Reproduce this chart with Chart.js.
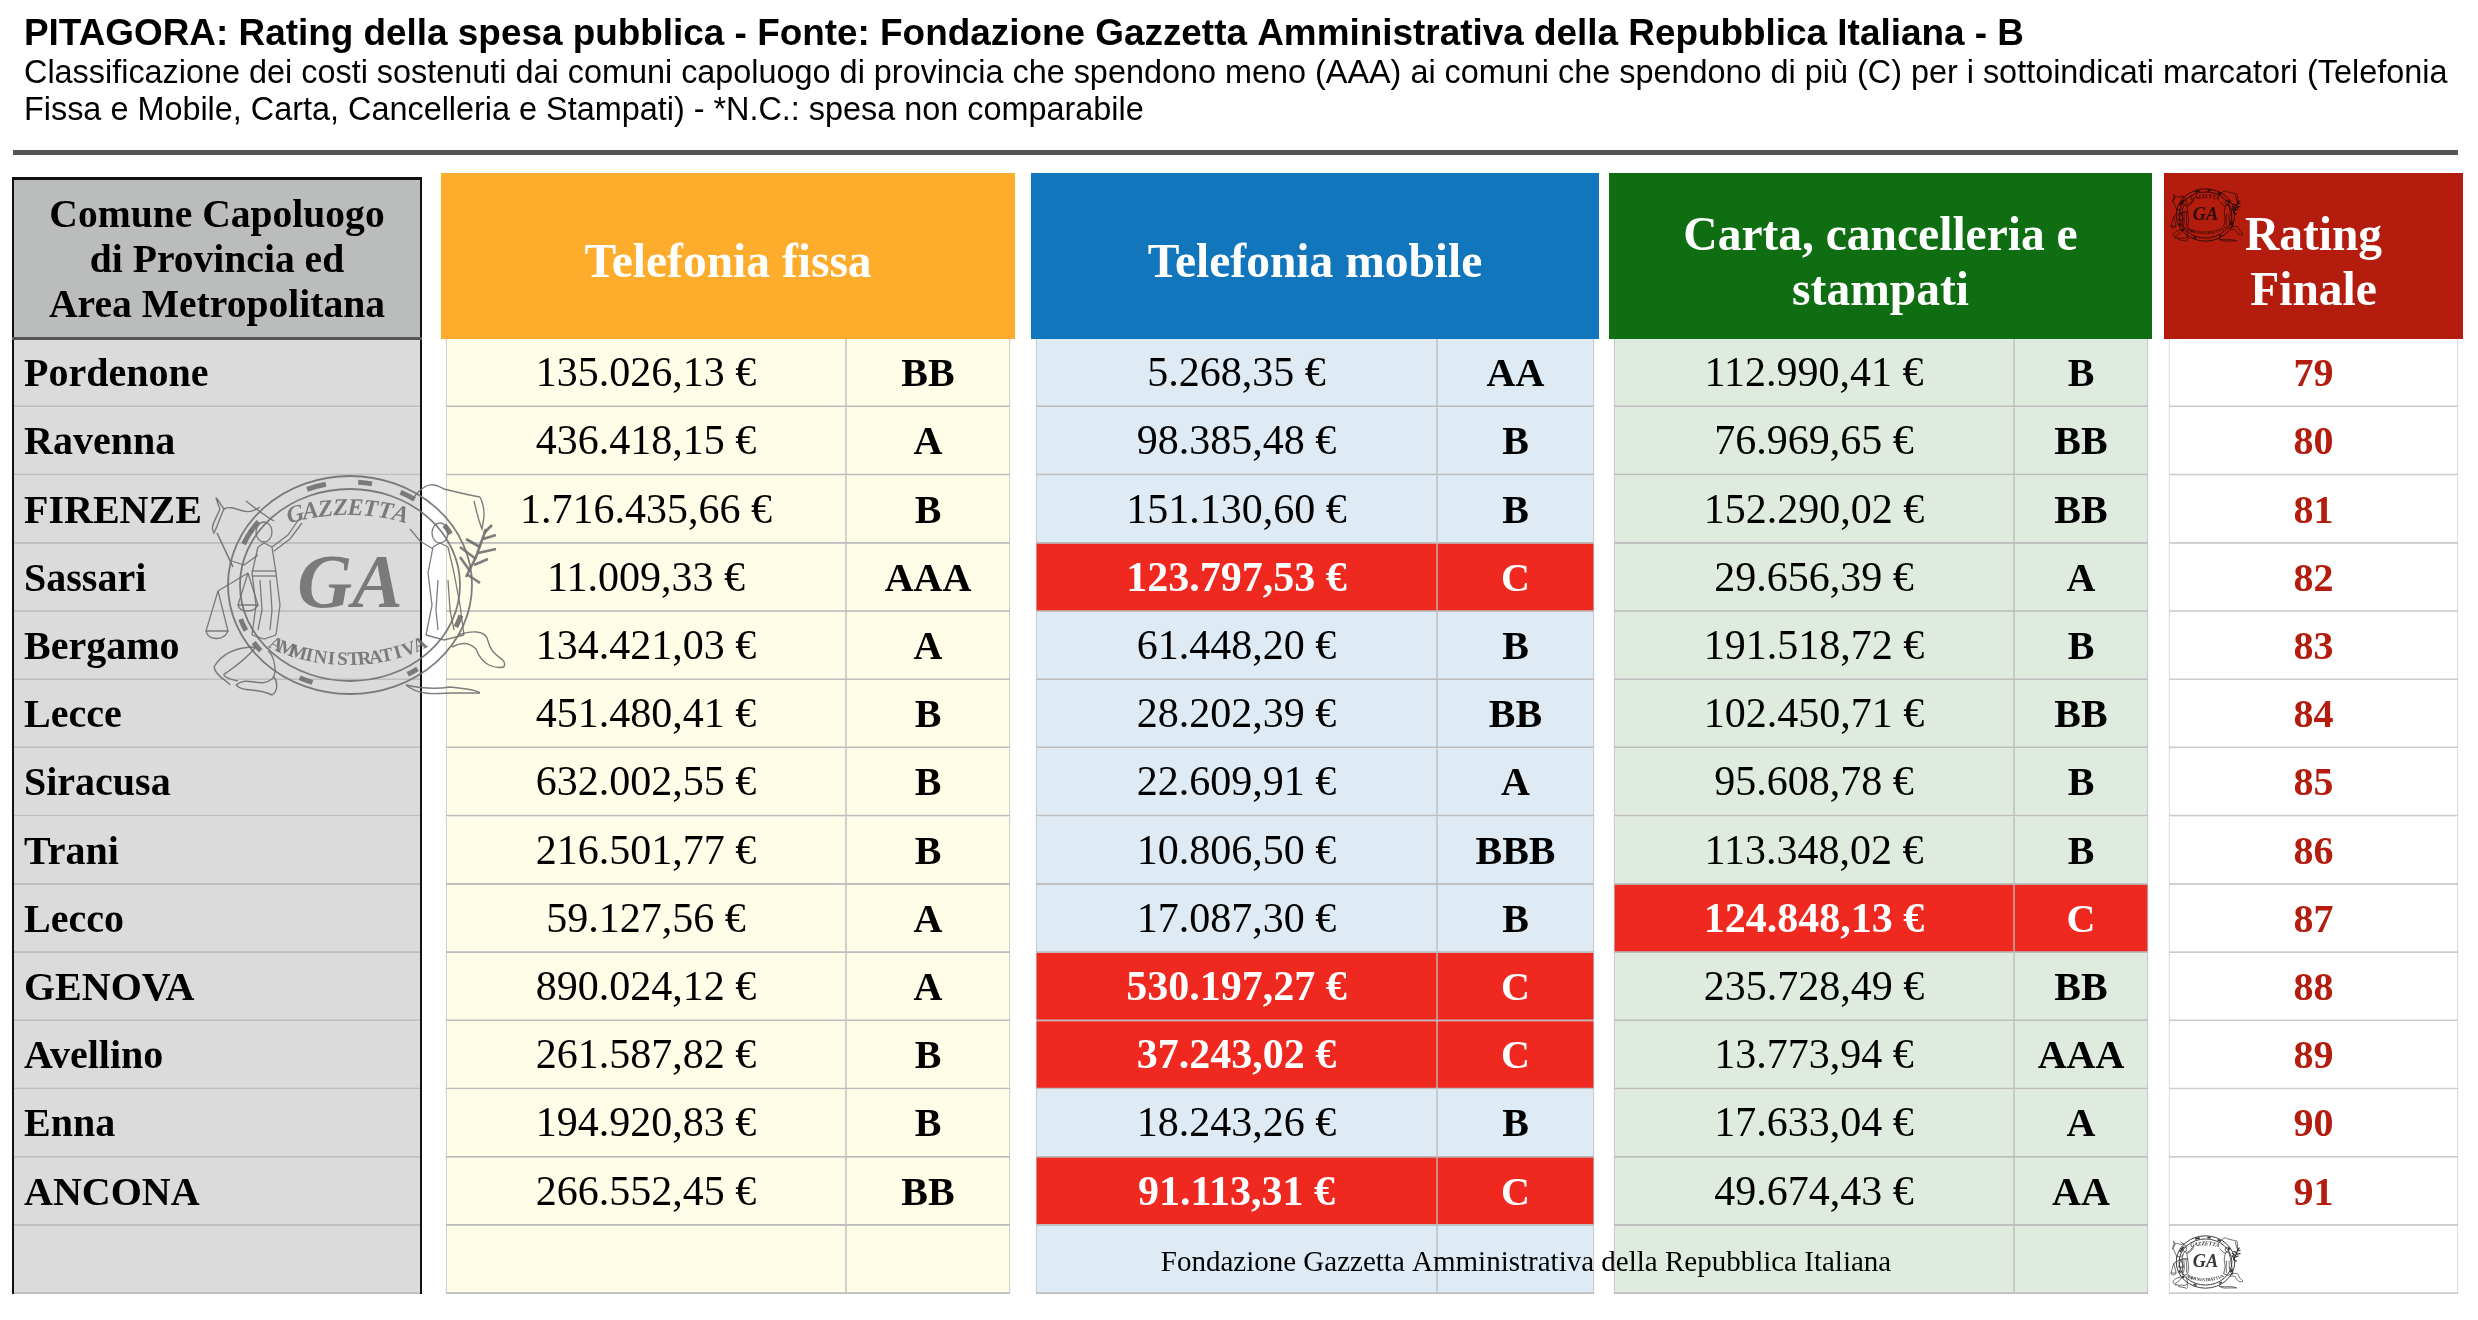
<!DOCTYPE html>
<html>
<head>
<meta charset="utf-8">
<title>PITAGORA</title>
<script src="https://cdn.jsdelivr.net/npm/chart.js@4"></script>
<style>
  html, body { margin: 0; background: #fff; }
  canvas { display: block; }
</style>
</head>
<body>
<canvas id="ratingChart" width="2478" height="1320"></canvas>
<script>
// last row is the empty one with the foundation credit
const comuni = ['Pordenone', 'Ravenna', 'FIRENZE', 'Sassari', 'Bergamo', 'Lecce', 'Siracusa', 'Trani', 'Lecco', 'GENOVA', 'Avellino', 'Enna', 'ANCONA', ''];
const spesaFissa = ['135.026,13 €', '436.418,15 €', '1.716.435,66 €', '11.009,33 €', '134.421,03 €', '451.480,41 €', '632.002,55 €', '216.501,77 €', '59.127,56 €', '890.024,12 €', '261.587,82 €', '194.920,83 €', '266.552,45 €', ''];
const ratingFissa = ['BB', 'A', 'B', 'AAA', 'A', 'B', 'B', 'B', 'A', 'A', 'B', 'B', 'BB', ''];
const spesaMobile = ['5.268,35 €', '98.385,48 €', '151.130,60 €', '123.797,53 €', '61.448,20 €', '28.202,39 €', '22.609,91 €', '10.806,50 €', '17.087,30 €', '530.197,27 €', '37.243,02 €', '18.243,26 €', '91.113,31 €', ''];
const ratingMobile = ['AA', 'B', 'B', 'C', 'B', 'BB', 'A', 'BBB', 'B', 'C', 'C', 'B', 'C', ''];
const spesaCarta = ['112.990,41 €', '76.969,65 €', '152.290,02 €', '29.656,39 €', '191.518,72 €', '102.450,71 €', '95.608,78 €', '113.348,02 €', '124.848,13 €', '235.728,49 €', '13.773,94 €', '17.633,04 €', '49.674,43 €', ''];
const ratingCarta = ['B', 'BB', 'BB', 'A', 'B', 'BB', 'B', 'B', 'C', 'BB', 'AAA', 'A', 'AA', ''];
const ratingFinale = [79, 80, 81, 82, 83, 84, 85, 86, 87, 88, 89, 90, 91, ''];

const titleText = 'PITAGORA: Rating della spesa pubblica - Fonte: Fondazione Gazzetta Amministrativa della Repubblica Italiana - B';
const subtitleLines = [
    'Classificazione dei costi sostenuti dai comuni capoluogo di provincia che spendono meno (AAA) ai comuni che spendono di più (C) per i sottoindicati marcatori (Telefonia',
    'Fissa e Mobile, Carta, Cancelleria e Stampati) - *N.C.: spesa non comparabile'
];
const creditText = 'Fondazione Gazzetta Amministrativa della Repubblica Italiana';

const SERIF = '"Liberation Serif", serif';
const SANS = '"Liberation Sans", sans-serif';
const RED_CELL = '#ef2820';
const DARK_RED = '#b41c0e';

// one floating bar per table column, x scale runs in page pixels
function column(from, to, values, fill, opts) {
    return Object.assign({
        label: from + '',
        data: comuni.map(() => [from, to]),
        texts: values,
        size: 40,
        backgroundColor: fill,
        borderColor: '#bdbdbd',
        borderWidth: { top: 0, right: 1, bottom: 2, left: 1 },
        borderSkipped: false,
        barPercentage: 1,
        categoryPercentage: 1,
        grouped: false
    }, opts);
}

function redIfC(ratings, normal) {
    return ratings.map(r => r === 'C' ? RED_CELL : normal);
}

const datasets = [
    column(13, 421, comuni, '#dbdbdb', { align: 'left', bold: true }),
    column(446, 846, spesaFissa, '#fffde8', { size: 42 }),
    column(846, 1010, ratingFissa, '#fffde8', { bold: true }),
    column(1036, 1437, spesaMobile, redIfC(ratingMobile, '#deebf4'), { size: 42, redFrom: ratingMobile }),
    column(1437, 1594, ratingMobile, redIfC(ratingMobile, '#deebf4'), { bold: true, redFrom: ratingMobile }),
    column(1614, 2014, spesaCarta, redIfC(ratingCarta, '#dfebdf'), { size: 42, redFrom: ratingCarta }),
    column(2014, 2148, ratingCarta, redIfC(ratingCarta, '#dfebdf'), { bold: true, redFrom: ratingCarta }),
    column(2169, 2458, ratingFinale, '#ffffff', { bold: true, color: DARK_RED, borderColor: '#cccccc' })
];

// header boxes sit above the first row
const headers = [
    { x0: 13, x1: 421, top: 177, fill: '#bbbdbc', color: '#000', size: 39.6, lines: ['Comune Capoluogo', 'di Provincia ed', 'Area Metropolitana'], base: [227, 272, 317] },
    { x0: 441, x1: 1015, top: 173, fill: '#fdac2b', color: '#fff', size: 47.5, lines: ['Telefonia fissa'], base: [277] },
    { x0: 1031, x1: 1599, top: 173, fill: '#1176bb', color: '#fff', size: 47.5, lines: ['Telefonia mobile'], base: [277] },
    { x0: 1609, x1: 2152, top: 173, fill: '#0f6e12', color: '#fff', size: 47.5, lines: ['Carta, cancelleria e', 'stampati'], base: [250, 305] },
    { x0: 2164, x1: 2463, top: 173, fill: DARK_RED, color: '#fff', size: 47.5, lines: ['Rating', 'Finale'], base: [250, 305] }
];

function ribbon(ctx, pts) {
    ctx.beginPath();
    ctx.moveTo(pts[0], pts[1]);
    for (let i = 2; i < pts.length; i += 6) {
        ctx.bezierCurveTo(pts[i], pts[i + 1], pts[i + 2], pts[i + 3], pts[i + 4], pts[i + 5]);
    }
    ctx.stroke();
}

function poly(ctx, pts) {
    ctx.beginPath();
    ctx.moveTo(pts[0], pts[1]);
    for (let i = 2; i < pts.length; i += 2) ctx.lineTo(pts[i], pts[i + 1]);
    ctx.stroke();
}

function arcText(ctx, text, span, rx, ry, sign) {
    const n = text.length;
    for (let i = 0; i < n; i++) {
        const x = -span + (2 * span) * (i + 0.5) / n;
        const k = Math.sqrt(1 - (x * x) / (rx * rx));
        const y = sign * ry * k;
        const slope = -sign * ry * x / (rx * rx * k);
        ctx.save();
        ctx.translate(x, y);
        ctx.rotate(Math.atan(slope));
        ctx.fillText(text[i], 0, 0);
        ctx.restore();
    }
}

// the GA seal: ring, lettering, two figures and the ribbons
function drawSeal(ctx, cx, cy, s, color, alpha) {
    const small = s < 0.5;
    ctx.save();
    ctx.translate(cx, cy);
    ctx.scale(s, s);
    ctx.globalAlpha = alpha;
    ctx.strokeStyle = color;
    ctx.fillStyle = color;
    ctx.textAlign = 'center';
    ctx.textBaseline = 'alphabetic';
    ctx.lineWidth = small ? 4 : 1.8;

    ctx.beginPath(); ctx.ellipse(2, 0, 122, 109, 0, 0, Math.PI * 2); ctx.stroke();
    ctx.beginPath(); ctx.ellipse(2, 0, 110, 96, 0, 0, Math.PI * 2); ctx.stroke();

    // hatching on the band
    ctx.lineWidth = small ? 7 : 5;
    [[-1.95, -1.78], [-1.5, -1.38], [-1.12, -0.98], [-0.62, -0.52], [0.3, 0.42], [0.95, 1.05], [1.9, 2.02], [2.45, 2.55], [3.55, 3.7], [-3.6, -3.48], [-2.6, -2.48]].forEach(a => {
        ctx.beginPath();
        ctx.ellipse(2, 0, 116, 103, 0, a[0], a[1]);
        ctx.stroke();
    });

    ctx.font = 'italic bold 76px ' + SERIF;
    ctx.fillText('GA', 2, 22);
    ctx.font = 'italic bold 24px ' + SERIF;
    arcText(ctx, 'GAZZETTA', 58, 122, 70, -1);
    ctx.font = 'bold 19px ' + SERIF;
    arcText(ctx, 'AMMINISTRATIVA', 80, 126, 80, 1);

    ctx.lineWidth = small ? 3 : 1.3;
    // left figure (Justice)
    ctx.beginPath(); ctx.ellipse(-84, -53, 8, 10, 0, 0, Math.PI * 2); ctx.stroke();
    poly(ctx, [-90, -38, -96, -12, -92, 20, -96, 50]);
    poly(ctx, [-76, -38, -72, -12, -68, 20, -72, 50]);
    poly(ctx, [-90, -38, -84, -42, -76, -38]);
    poly(ctx, [-96, -14, -72, -14]);
    poly(ctx, [-96, -9, -72, -9]);
    poly(ctx, [-96, 50, -84, 54, -72, 50]);
    poly(ctx, [-88, -5, -86, 25, -90, 45]);
    poly(ctx, [-78, -5, -76, 25, -78, 45]);
    poly(ctx, [-76, -38, -60, -50, -49, -66]);
    poly(ctx, [-74, -34, -58, -46, -46, -62]);
    poly(ctx, [-90, -30, -104, -20, -116, -24]);
    // sword
    ctx.lineWidth = small ? 3 : 1.6;
    poly(ctx, [-131, -52, -115, -18]);
    // scales
    ctx.lineWidth = small ? 3 : 1.3;
    poly(ctx, [-100, -12, -130, 6]);
    poly(ctx, [-130, 6, -142, 46, -120, 46, -130, 6]);
    poly(ctx, [-100, -12, -110, 20, -90, 20, -100, -12]);
    ribbon(ctx, [-142, 46, -140, 56, -124, 56, -120, 46]);
    ribbon(ctx, [-110, 20, -108, 28, -94, 28, -90, 20]);
    // right figure
    ctx.beginPath(); ctx.ellipse(92, -52, 8, 10, 0, 0, Math.PI * 2); ctx.stroke();
    poly(ctx, [85, -38, 80, -12, 84, 20, 78, 50]);
    poly(ctx, [100, -38, 106, -12, 112, 20, 116, 50]);
    poly(ctx, [85, -38, 92, -42, 100, -38]);
    poly(ctx, [78, 50, 96, 55, 116, 50]);
    poly(ctx, [90, -5, 88, 25, 90, 45]);
    poly(ctx, [100, -5, 102, 25, 106, 45]);
    poly(ctx, [85, -36, 72, -44, 62, -56]);
    // branch
    ctx.lineWidth = small ? 5 : 2.6;
    poly(ctx, [118, -8, 128, -28, 138, -56]);
    [[126, -20, 140, -26], [122, -14, 112, -28], [130, -32, 148, -36], [132, -38, 118, -46], [135, -46, 148, -50], [120, -10, 132, -2], [128, -26, 112, -38], [136, -52, 144, -60]].forEach(b => {
        poly(ctx, b);
    });

    ctx.lineWidth = small ? 3 : 1.4;
    // ribbons
    ribbon(ctx, [-88, -78, -105, -66, -112, -82, -124, -76, -130, -84, -136, -96, -128, -76]);
    ribbon(ctx, [-128, -76, -134, -62, -138, -58, -134, -52, -130, -60, -128, -68, -124, -76]);
    ribbon(ctx, [-102, -84, -92, -76, -84, -70, -74, -64, -74, -64, -74, -64, -74, -64]);
    ribbon(ctx, [66, -88, 80, -106, 88, -100, 96, -96, 112, -92, 120, -90, 132, -88]);
    ribbon(ctx, [132, -88, 138, -76, 136, -66, 134, -56, 130, -66, 128, -76, 126, -84]);
    ribbon(ctx, [-92, 62, -110, 62, -126, 68, -134, 82, -132, 92, -120, 96, -118, 100]);
    ribbon(ctx, [-92, 62, -104, 76, -116, 84, -122, 88, -128, 90, -120, 94, -110, 96]);
    ribbon(ctx, [-112, 100, -100, 90, -88, 104, -76, 94, -70, 88, -74, 70, -80, 66]);
    ribbon(ctx, [-112, 100, -104, 108, -92, 102, -76, 110, -70, 106, -70, 98, -74, 92]);
    ribbon(ctx, [110, 50, 122, 46, 138, 44, 140, 56, 144, 74, 160, 72, 156, 82]);
    ribbon(ctx, [156, 82, 146, 84, 134, 80, 128, 64, 120, 56, 112, 58, 104, 62]);
    ribbon(ctx, [58, 100, 76, 104, 90, 104, 102, 102, 116, 104, 128, 104, 132, 108]);
    ribbon(ctx, [58, 100, 72, 112, 92, 108, 104, 108, 110, 108, 124, 108, 132, 108]);
    ctx.restore();
}

const tablePlugin = {
    id: 'tablePlugin',
    beforeDatasetsDraw(chart) {
        const ctx = chart.ctx;
        const headBottom = chart.scales.y.top;
        ctx.save();
        headers.forEach(h => {
            ctx.fillStyle = h.fill;
            ctx.fillRect(h.x0, h.top, h.x1 - h.x0, headBottom - h.top);
        });
        ctx.restore();
    },
    afterDatasetsDraw(chart) {
        const ctx = chart.ctx;
        const yScale = chart.scales.y;
        ctx.save();

        // title block and rule
        ctx.fillStyle = '#000';
        ctx.textAlign = 'left';
        ctx.textBaseline = 'alphabetic';
        ctx.font = 'bold 36.9px ' + SANS;
        ctx.fillText(titleText, 24, 45);
        ctx.font = '32.4px ' + SANS;
        ctx.fillText(subtitleLines[0], 24, 83);
        ctx.fillText(subtitleLines[1], 24, 120);
        ctx.fillStyle = '#555555';
        ctx.fillRect(13, 150, 2445, 5);

        // header captions
        headers.forEach(h => {
            ctx.fillStyle = h.color;
            ctx.textAlign = 'center';
            ctx.font = 'bold ' + h.size + 'px ' + SERIF;
            h.lines.forEach((line, i) => ctx.fillText(line, (h.x0 + h.x1) / 2, h.base[i]));
        });

        // frame of the municipality column
        ctx.fillStyle = '#111';
        ctx.fillRect(12, 177, 410, 3);
        ctx.fillRect(12, 177, 2, yScale.bottom - 177);
        ctx.fillRect(420, 177, 2, yScale.bottom - 177);
        ctx.fillStyle = '#555';
        ctx.fillRect(12, yScale.top - 2, 410, 3);

        // cell values, positioned from the bar elements
        chart.data.datasets.forEach((ds, d) => {
            const meta = chart.getDatasetMeta(d);
            meta.data.forEach((bar, i) => {
                const value = ds.texts[i];
                if (value === '') return;
                const red = ds.redFrom && ds.redFrom[i] === 'C';
                ctx.font = (ds.bold || red ? 'bold ' : '') + ds.size + 'px ' + SERIF;
                ctx.fillStyle = red ? '#fff' : (ds.color || '#000');
                const yText = bar.y + 13;
                if (ds.align === 'left') {
                    ctx.textAlign = 'left';
                    ctx.fillText(value, 24, yText);
                } else {
                    ctx.textAlign = 'center';
                    ctx.fillText(value, bar.getCenterPoint().x, yText);
                }
            });
        });

        // credit on the last row
        ctx.fillStyle = '#000';
        ctx.textAlign = 'center';
        ctx.font = '29px ' + SERIF;
        ctx.fillText(creditText, 1526, 1271);
        ctx.restore();

        drawSeal(ctx, 348, 585, 1, '#6f6f6f', 0.9);
        drawSeal(ctx, 2205, 215, 0.24, '#1a0a08', 0.9);
        drawSeal(ctx, 2205, 1262, 0.24, '#222222', 0.9);
    }
};

new Chart(document.getElementById('ratingChart').getContext('2d'), {
    type: 'bar',
    data: { labels: comuni.map((c, i) => c || 'vuoto' + i), datasets: datasets },
    plugins: [tablePlugin],
    options: {
        indexAxis: 'y',
        responsive: false,
        animation: false,
        devicePixelRatio: 1,
        layout: { padding: { top: 339, bottom: 26, left: 0, right: 0 } },
        scales: {
            x: { type: 'linear', min: 0, max: 2478, display: false },
            y: { type: 'category', display: false }
        },
        plugins: {
            legend: { display: false },
            tooltip: { enabled: false },
            title: { display: false }
        }
    }
});
</script>
</body>
</html>
